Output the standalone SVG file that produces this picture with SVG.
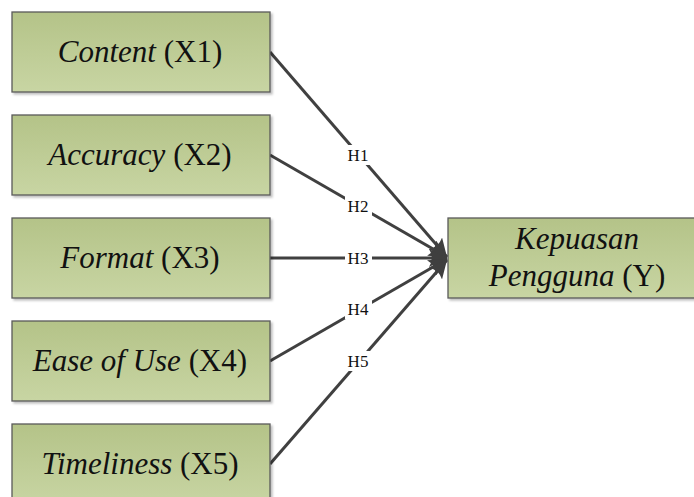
<svg xmlns="http://www.w3.org/2000/svg" width="694" height="497" viewBox="0 0 694 497">
<defs>
<linearGradient id="g" x1="0" y1="0" x2="0" y2="1">
<stop offset="0" stop-color="#b4c388"/>
<stop offset="1" stop-color="#c8d5a3"/>
</linearGradient>
<marker id="arr" viewBox="0 0 10 10" refX="10" refY="5" markerWidth="6" markerHeight="6" markerUnits="strokeWidth" orient="auto">
<path d="M0,0 L10,5 L0,10 Q3,5 0,0 Z" fill="#3f3f3f"/>
</marker>
<filter id="sh" x="-5%" y="-5%" width="115%" height="120%">
<feDropShadow dx="2" dy="2" stdDeviation="1" flood-color="#000" flood-opacity="0.25"/>
</filter>
</defs>
<style>
.box{fill:url(#g);stroke:#5a5a5a;stroke-width:1.3;filter:url(#sh)}
.t{font-family:"Liberation Serif","DejaVu Serif",serif;font-size:31px;fill:#111;text-anchor:middle}
.i{font-style:italic}
.c{stroke:#404040;stroke-width:3;fill:none;marker-end:url(#arr)}
.lb{font-family:"Liberation Serif","DejaVu Serif",serif;font-size:17px;fill:#111;text-anchor:middle}
.lbg{fill:#fff}
</style>
<rect width="694" height="497" fill="#fff"/>
<g id="connectors">
<line class="c" x1="270" y1="52" x2="447" y2="257"/>
<line class="c" x1="270" y1="155" x2="447" y2="257"/>
<line class="c" x1="270" y1="258" x2="447" y2="258"/>
<line class="c" x1="270" y1="361" x2="447" y2="259"/>
<line class="c" x1="270" y1="464" x2="447" y2="260"/>
<rect class="lbg" x="345" y="145" width="27" height="20"/>
<text class="lb" x="358" y="161">H1</text>
<rect class="lbg" x="345" y="196" width="27" height="20"/>
<text class="lb" x="358" y="212">H2</text>
<rect class="lbg" x="345" y="248" width="27" height="20"/>
<text class="lb" x="358" y="264">H3</text>
<rect class="lbg" x="345" y="299" width="27" height="20"/>
<text class="lb" x="358" y="315">H4</text>
<rect class="lbg" x="345" y="351" width="27" height="20"/>
<text class="lb" x="358" y="367">H5</text>
</g>
<g id="x1">
<rect class="box" x="12" y="12" width="258" height="80"/>
<text class="t" x="140" y="62"><tspan class="i">Content</tspan> (X1)</text>
</g>
<g id="x2">
<rect class="box" x="12" y="115" width="258" height="80"/>
<text class="t" x="140" y="165"><tspan class="i">Accuracy</tspan> (X2)</text>
</g>
<g id="x3">
<rect class="box" x="12" y="218" width="258" height="80"/>
<text class="t" x="140" y="268"><tspan class="i">Format</tspan> (X3)</text>
</g>
<g id="x4">
<rect class="box" x="12" y="321" width="258" height="80"/>
<text class="t" x="140" y="371"><tspan class="i">Ease of Use</tspan> (X4)</text>
</g>
<g id="x5">
<rect class="box" x="12" y="424" width="258" height="80"/>
<text class="t" x="140" y="474"><tspan class="i">Timeliness</tspan> (X5)</text>
</g>
<g id="y">
<rect class="box" x="448" y="218" width="252" height="80"/>
<text class="t i" x="577" y="249">Kepuasan</text>
<text class="t" x="577" y="286"><tspan class="i">Pengguna</tspan> (Y)</text>
</g>
</svg>
